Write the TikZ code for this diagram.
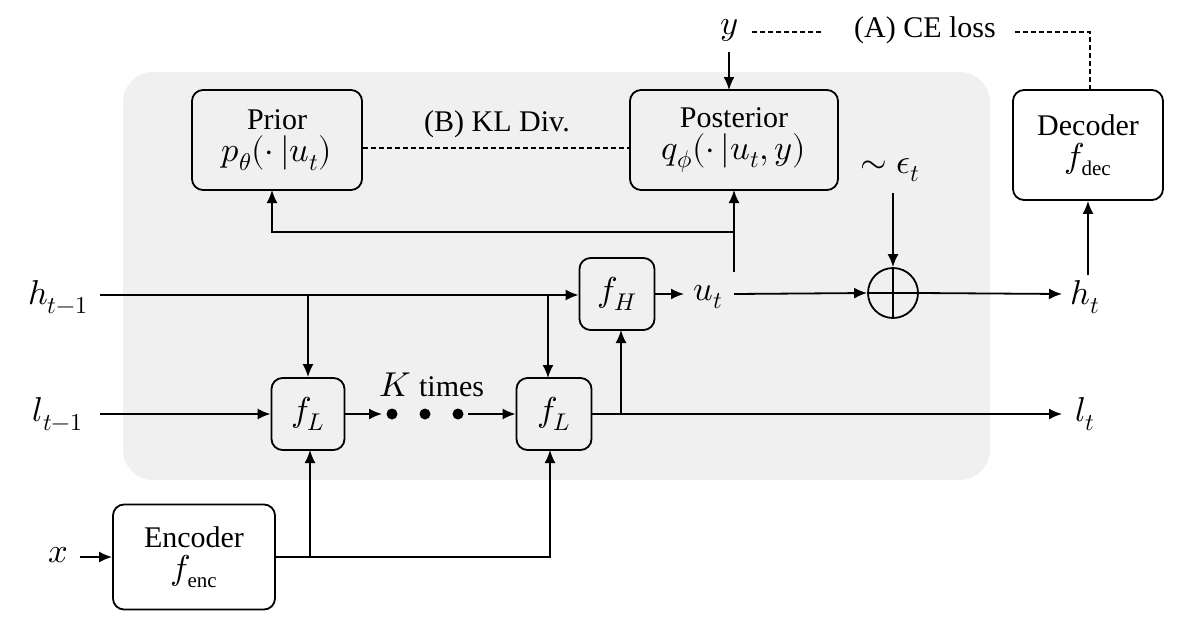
\documentclass[tikz,border=0pt]{standalone}
\usepackage{unicode-math}
\setmainfont{Liberation Serif}
\setmathfont{Latin Modern Math}[Scale=1.15]
\usetikzlibrary{arrows.meta,calc}
\begin{document}
\begin{tikzpicture}[x=1pt,y=-1pt,
  font=\fontsize{30}{34}\selectfont,
  line width=1.8pt,
  arr/.style={-{Latex[length=13pt,width=11pt]}},
  box/.style={draw,rounded corners=11pt,line width=1.8pt,align=center,inner sep=0pt},
  lbl/.style={inner sep=1pt},
  dsh/.style={dashed,dash pattern=on 5pt off 3pt,line width=1.5pt}]
\useasboundingbox (0,0) rectangle (1181,632);
\fill[gray!12,rounded corners=30pt] (123,72) rectangle (990,480);
% boxes
\node[box,minimum width=170,minimum height=100] (prior) at (277,140) {Prior\\[-2pt]$p_\theta(\cdot\,|u_t)$};
\node[box,minimum width=208,minimum height=100] (post) at (734,140) {Posterior\\[-2pt]$q_\phi(\cdot\,|u_t,y)$};
\node[box,minimum width=150,minimum height=110] (dec) at (1088,145) {Decoder\\[-2pt]$f_{\mathrm{dec}}$};
\node[box,minimum width=162,minimum height=105] (enc) at (194,557) {Encoder\\[-2pt]$f_{\mathrm{enc}}$};
\node[box,minimum width=75,minimum height=72] (fH) at (617,294) {$f_H$};
\node[box,minimum width=73,minimum height=72] (fL1) at (308,414) {$f_L$};
\node[box,minimum width=75,minimum height=72] (fL2) at (554,414) {$f_L$};
\draw (893,293) circle (25);
\node[minimum size=50,inner sep=0pt] (plus) at (893,293) {};
\draw (868,293)--(918,293) (893,268)--(893,318);
% labels
\node[lbl] (y) at (729,30) {$y$};
\node[lbl] (ce) at (925,30) {(A) CE loss};
\node[lbl] (kl) at (497,124) {(B) KL Div.};
\node[lbl] (eps) at (890,170) {$\sim\epsilon_t$};
\node[lbl] (htm) at (58,297) {$h_{t-1}$};
\node[lbl] (ltm) at (58,414) {$l_{t-1}$};
\node[lbl] (x) at (58,555) {$x$};
\node[lbl] (ut) at (708,297) {$u_t$};
\node[lbl] (ht) at (1085,297) {$h_t$};
\node[lbl] (lt) at (1085,414) {$l_t$};
\node[lbl] (K) at (432,385) {$K$ times};
\foreach \px [count=\i] in {392,425,458} \fill (\px,414) circle (5.5) coordinate (d\i);
% dashed
\coordinate (ya) at (752,32); \coordinate (cea) at (822,32); \coordinate (ceb) at (1015,32); \coordinate (dt) at (1090,32);
\draw[dsh] (prior.east|-0,148) -- (post.west|-0,148);
\draw[dsh] (ya) -- (cea);
\draw[dsh] (ceb) -- (dt) -- (dec.north-|dt);
\draw[arr] (729,52) -- (729,90);
% main flows
\draw[arr] (100,295) -- (fH.west|-0,295);
\draw[arr] (fH.east|-0,294) -- (684,294);
\draw[arr] (734,294) -- (plus.west);
\draw[arr] (plus.east) -- (1062,294);
\draw[arr] (893,193) -- (plus.north);
\draw[arr] (1088,275) -- (dec.south);
\coordinate (ub) at (734,232);
\draw[arr] (734,272) -- (734,190);
\draw[arr] (ub) -- (272,232) -- (272,190);
\draw[arr] (308,295) -- (fL1.north);
\draw[arr] (548,295) -- (548,378);
\draw[arr] (100,414) -- (fL1.west);
\draw[arr] (fL1.east) -- (382,414);
\draw[arr] (468,414) -- (fL2.west);
\draw[arr] (fL2.east) -- (1062,414);
\draw[arr] (621,414) -- (621,330);
\draw[arr] (80,557) -- (enc.west|-0,557);
\draw[arr] (enc.east|-0,557) -- (550,557) -- (550,450);
\draw[arr] (310,557) -- (310,450);
\end{tikzpicture}
\end{document}
